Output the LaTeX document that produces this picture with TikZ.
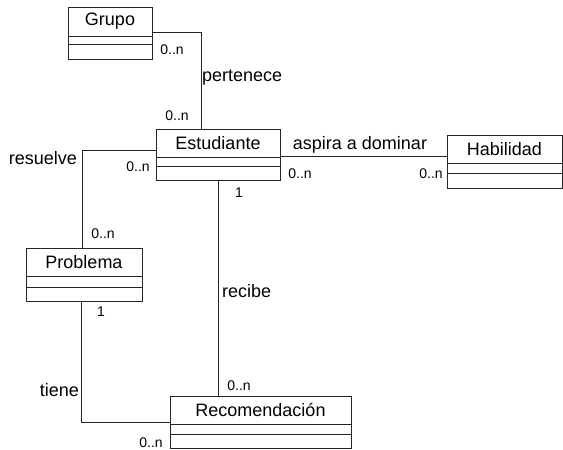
\documentclass[tikz,border=0pt]{standalone}
\usepackage{fontspec}
\setmainfont{Liberation Sans}
\usetikzlibrary{fit,calc}

\tikzset{
  classbox/.style={draw=black!85, line width=0.8pt, fill=white, inner sep=0pt},
  classline/.style={draw=black!85, line width=0.8pt},
  assoc/.style={draw=black!85, line width=0.8pt},
  nametext/.style={inner sep=0pt, font=\fontsize{18}{21}\selectfont},
  roletext/.style={inner sep=0pt, font=\fontsize{18}{21}\selectfont},
  multtext/.style={inner sep=0pt, font=\fontsize{14}{16}\selectfont},
}

% UML class: id, x1, y1, x2, y2, first separator, second separator, name
\newcommand\umlclass[8]{%
  \node[classbox, fit={(#2,#3)(#4,#5)}] (#1) {};
  \node[nametext] (#1-name) at ($(#2,#3)!0.5!(#4,#6)$) {#8};
  \draw[classline] (#2,#6) -- (#4,#6) (#2,#7) -- (#4,#7);
}

\begin{document}
\begin{tikzpicture}[x=1pt, y=-1pt]
  \useasboundingbox[fill=white] (0,0) rectangle (563,450);

  % classes
  \umlclass{grupo}{68}{7}{152}{59}{36}{44}{Grupo}
  \umlclass{estudiante}{156}{129}{280}{180}{157}{166}{Estudiante}
  \umlclass{habilidad}{447}{135}{562}{188}{163}{173}{Habilidad}
  \umlclass{problema}{26}{248}{142}{301}{276}{287}{Problema}
  \umlclass{recomendacion}{170}{396}{351}{448}{424}{434}{Recomendación}

  % associations
  \draw[assoc] ([yshift=1pt]grupo.east) -| ([xshift=-17pt]estudiante.north);
  \coordinate (aspA) at ([yshift=-1.5pt]estudiante.east);
  \draw[assoc] (aspA) -- (aspA -| habilidad.west);
  \draw[assoc] ([yshift=4.5pt]estudiante.west) -| ([xshift=-2pt]problema.north);
  \draw[assoc] (estudiante.south) -- (estudiante.south |- recomendacion.north);
  \draw[assoc] ([xshift=-2.5pt]problema.south) |- (recomendacion.west);

  % association names
  \node[roletext, anchor=west] (lpert) at (202,78) {pertenece};
  \node[roletext] (lasp) at (360,145) {aspira a dominar};
  \node[roletext, anchor=east] (lres) at (77,158) {resuelve};
  \node[roletext, anchor=west] (lrec) at (222,291) {recibe};
  \node[roletext, anchor=east] (ltie) at (79,390) {tiene};

  % multiplicities
  \node[multtext] (m1) at (172,50) {0..n};
  \node[multtext] (m2) at (177,116) {0..n};
  \node[multtext] (m3) at (138,167) {0..n};
  \node[multtext] (m4) at (239,193) {1};
  \node[multtext] (m5) at (300,174) {0..n};
  \node[multtext] (m6) at (431,174) {0..n};
  \node[multtext] (m7) at (103,234) {0..n};
  \node[multtext] (m8) at (101,312) {1};
  \node[multtext] (m9) at (239,386) {0..n};
  \node[multtext] (m10) at (151,443) {0..n};
\end{tikzpicture}
\end{document}
